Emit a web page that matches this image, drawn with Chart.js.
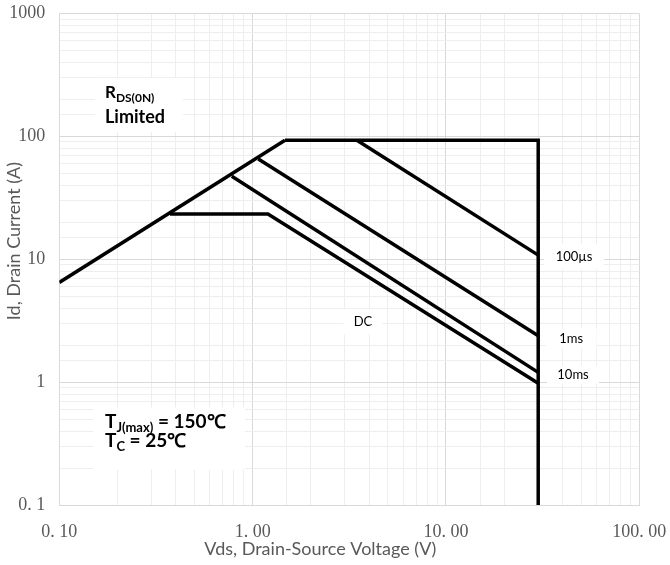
<!DOCTYPE html>
<html><head><meta charset="utf-8">
<script src="https://cdn.jsdelivr.net/npm/chart.js@4"></script>
<style>html,body{margin:0;padding:0;background:#fff}#wrap{width:670px;height:565px;position:relative}</style>
</head><body><div id="wrap"><canvas id="c"></canvas></div>
<script>
// ---- data (Vds in V, Id in A) ----
const rdsVds = [0.1, 1.47];          const rdsId = [6.47, 93];
const maxVds = [1.47, 30, 30];       const maxId = [93, 93, 0.1];
const us100Vds = [3.46, 30];         const us100Id = [93, 10.8];
const ms1Vds = [1.07, 30];           const ms1Id = [65.5, 2.38];
const ms10Vds = [0.78, 30];          const ms10Id = [47.3, 1.2];
const dcVds = [0.374, 1.2, 30];      const dcId = [23.3, 23.3, 0.98];
const xTickValues = [0.1, 1, 10, 100];
const xTickLabels = ['0. 10', '1. 00', '10. 00', '100. 00'];
const yTickValues = [0.1, 1, 10, 100, 1000];
const yTickLabels = ['0. 1', '1', '10', '100', '1000'];
const xTitle = 'Vds, Drain-Source Voltage (V)';
const yTitle = 'Id, Drain Current (A)';

function pts(xs, ys){ return xs.map((x,i)=>({x:x, y:ys[i]})); }
function isMajor(v){ const l=Math.log10(v); return Math.abs(l-Math.round(l))<1e-6; }
function lbl(vals, labels, v){ for(let i=0;i<vals.length;i++){ if(Math.abs(vals[i]-v)/vals[i]<1e-6) return labels[i]; } return ''; }

const SANS = 'Lato, "Liberation Sans", sans-serif';

function rich(ctx, x, y, parts){
  let cx = x;
  for(const p of parts){
    ctx.font = p.font;
    ctx.fillText(p.t, cx, y + (p.dy||0));
    cx += ctx.measureText(p.t).width;
  }
}

const notes = [
  {type:'rds', x:0.1723, y:205.6, box:[-10,-20,78,34]},
  {type:'tj', x:0.1723, y:0.4266, box:[-12,-20,140,42]},
  {type:'small', text:'100µs', x:46.0, y:10.5, w:60, h:25},
  {type:'small', text:'1ms', x:44.4, y:2.26, w:51, h:20},
  {type:'small', text:'10ms', x:45.4, y:1.15, w:52, h:18},
  {type:'small', text:'DC', x:3.72, y:3.10, w:39, h:25}
];

const notePlugin = {
  id: 'notes',
  beforeDatasetsDraw(chart){
    const ctx = chart.ctx, xs = chart.scales.x, ys = chart.scales.y;
    ctx.save();
    for(const n of notes){
      const px = xs.getPixelForValue(n.x), py = ys.getPixelForValue(n.y);
      ctx.fillStyle = '#ffffff';
      if(n.box){
        ctx.fillRect(px+n.box[0], py+n.box[1], n.box[2]-n.box[0], n.box[3]-n.box[1]);
      } else {
        ctx.fillRect(px-n.w/2, py-n.h/2, n.w, n.h);
      }
      ctx.fillStyle = '#000000';
      ctx.textBaseline = 'alphabetic';
      ctx.textAlign = 'left';
      if(n.type==='rds'){
        rich(ctx, px, py, [{t:'R', font:'bold 17px '+SANS},{t:'DS(0N)', font:'bold 12px '+SANS, dy:4}]);
        rich(ctx, px, py+25, [{t:'Limited', font:'bold 18px '+SANS}]);
      } else if(n.type==='tj'){
        rich(ctx, px, py, [{t:'T', font:'bold 19px '+SANS},{t:'J(max)', font:'bold 13px '+SANS, dy:4},{t:' = 150℃', font:'bold 19px '+SANS}]);
        rich(ctx, px, py+19, [{t:'T', font:'bold 19px '+SANS},{t:'C', font:'bold 13px '+SANS, dy:4},{t:' = 25℃', font:'bold 19px '+SANS}]);
      } else {
        ctx.font = '13px '+SANS;
        ctx.textAlign = 'center';
        ctx.textBaseline = 'middle';
        ctx.fillText(n.text, px, py);
      }
    }
    ctx.restore();
  },
  afterDraw(chart){
    const ctx = chart.ctx, a = chart.chartArea;
    ctx.save();
    ctx.fillStyle = '#595959';
    ctx.font = '18px '+SANS;
    ctx.textAlign = 'center';
    ctx.textBaseline = 'middle';
    ctx.fillText(xTitle, a.left + (a.right-a.left)*0.45, chart.height - 16);
    ctx.translate(14, a.top + (a.bottom-a.top)*0.463);
    ctx.rotate(-Math.PI/2);
    ctx.fillText(yTitle, 0, 0);
    ctx.restore();
  }
};

const lineStyle = {borderColor:'#000', borderWidth:3.5, pointRadius:0, tension:0, fill:false, showLine:true};

new Chart(document.getElementById('c'), {
  type: 'line',
  data: {
    datasets: [
      Object.assign({label:'RDS(on) limited', data: pts(rdsVds, rdsId)}, lineStyle),
      Object.assign({label:'Max', data: pts(maxVds, maxId)}, lineStyle),
      Object.assign({label:'100µs', data: pts(us100Vds, us100Id)}, lineStyle),
      Object.assign({label:'1ms', data: pts(ms1Vds, ms1Id)}, lineStyle),
      Object.assign({label:'10ms', data: pts(ms10Vds, ms10Id)}, lineStyle),
      Object.assign({label:'DC', data: pts(dcVds, dcId)}, lineStyle)
    ]
  },
  options: {
    responsive: true,
    maintainAspectRatio: false,
    animation: false,
    layout: {padding: {top: 13.5, right: 30.7, left: 0, bottom: 0}},
    plugins: {legend: {display:false}, tooltip: {enabled:false}},
    scales: {
      x: {
        type: 'logarithmic', min: 0.1, max: 100,
        afterFit(s){ s.height = 60; s.paddingLeft = 0; s.paddingRight = 0; },
        grid: {color: c => isMajor(c.tick.value) ? '#d9d9d9' : '#eeeeee', drawTicks:false, lineWidth:1},
        border: {display:true, color:'#d9d9d9'},
        ticks: {autoSkip:false, maxRotation:0, padding:16, color:'#595959',
          font:{family:'"Liberation Serif", serif', size:18},
          callback: v => lbl(xTickValues, xTickLabels, v)},
        title: {display:false}
      },
      y: {
        type: 'logarithmic', min: 0.1, max: 1000,
        afterFit(s){ s.width = 59.3; s.paddingTop = 0; s.paddingBottom = 0; },
        grid: {color: c => isMajor(c.tick.value) ? '#d9d9d9' : '#eeeeee', drawTicks:false, lineWidth:1},
        border: {display:true, color:'#d9d9d9'},
        ticks: {autoSkip:false, padding:14, color:'#595959',
          font:{family:'"Liberation Serif", serif', size:18},
          callback: v => lbl(yTickValues, yTickLabels, v)},
        title: {display:false}
      }
    }
  },
  plugins: [notePlugin]
});
</script>
</body></html>
